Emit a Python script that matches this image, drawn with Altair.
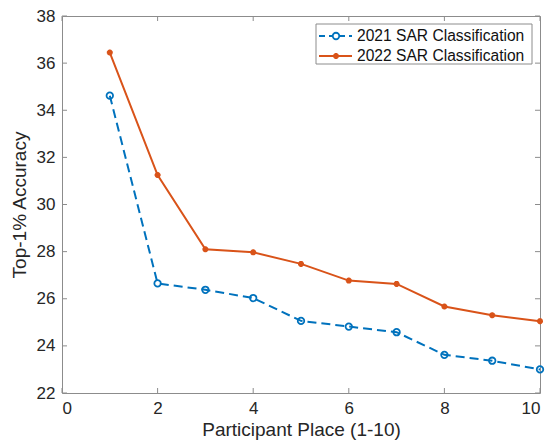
import altair as alt
import pandas as pd

places = [1, 2, 3, 4, 5, 6, 7, 8, 9, 10]
acc_2021 = [34.62, 26.65, 26.38, 26.03, 25.06, 24.82, 24.58, 23.62, 23.37, 23.0]
acc_2022 = [36.45, 31.25, 28.1, 27.97, 27.48, 26.77, 26.63, 25.67, 25.3, 25.05]
series_names = ["2021 SAR Classification", "2022 SAR Classification"]
colors = ["#0072BD", "#D95319"]
x_ticks = [0, 2, 4, 6, 8, 10]
y_ticks = [22, 24, 26, 28, 30, 32, 34, 36, 38]

W, H = 478, 377
FONT = "Liberation Sans"
GRID = "#8c8c8c"

df21 = pd.DataFrame({"place": places, "acc": acc_2021})
df22 = pd.DataFrame({"place": places, "acc": acc_2022})
xt = pd.DataFrame({"t": x_ticks})
yt = pd.DataFrame({"t": y_ticks})

xs = alt.Scale(domain=[0, 10], nice=False, zero=False)
ys = alt.Scale(domain=[22, 38], nice=False, zero=False)

X = alt.X("place:Q", scale=xs, title="Participant Place (1-10)",
          axis=alt.Axis(values=x_ticks, ticks=False, domain=False, grid=False,
                        labelPadding=7, labelFontSize=17, titleFontSize=19,
                        labelColor="#262626", titleColor="#262626", titleFontWeight="normal",
                        labelFont=FONT, titleFont=FONT, titlePadding=4))
Y = alt.Y("acc:Q", scale=ys, title="Top-1% Accuracy",
          axis=alt.Axis(values=y_ticks, ticks=False, domain=False, grid=False,
                        labelPadding=7, labelFontSize=17, titleFontSize=19,
                        labelColor="#262626", titleColor="#262626", titleFontWeight="normal",
                        labelFont=FONT, titleFont=FONT, titlePadding=7))

asterisk = "M-1,0L1,0M0,-1L0,1M-0.7,-0.7L0.7,0.7M-0.7,0.7L0.7,-0.7"

line21 = alt.Chart(df21).mark_line(color=colors[0], strokeWidth=2, strokeDash=[9, 5]).encode(x=X, y=Y)
pts21 = alt.Chart(df21).mark_point(color=colors[0], shape="circle", size=42, strokeWidth=1.8, filled=False, opacity=1).encode(x="place:Q", y="acc:Q")
line22 = alt.Chart(df22).mark_line(color=colors[1], strokeWidth=2).encode(x="place:Q", y="acc:Q")
pts22 = alt.Chart(df22).mark_point(color=colors[1], shape=asterisk, size=36, strokeWidth=2, filled=False, opacity=1).encode(x="place:Q", y="acc:Q")

tl = 5
xb = alt.Chart(xt).mark_rule(color=GRID, strokeWidth=1).encode(x=alt.X("t:Q", scale=xs), y=alt.value(H), y2=alt.value(H - tl))
xtp = alt.Chart(xt).mark_rule(color=GRID, strokeWidth=1).encode(x=alt.X("t:Q", scale=xs), y=alt.value(0), y2=alt.value(tl))
yl = alt.Chart(yt).mark_rule(color=GRID, strokeWidth=1).encode(y=alt.Y("t:Q", scale=ys), x=alt.value(0), x2=alt.value(tl))
yr = alt.Chart(yt).mark_rule(color=GRID, strokeWidth=1).encode(y=alt.Y("t:Q", scale=ys), x=alt.value(W), x2=alt.value(W - tl))

# legend
leg_df = pd.DataFrame({"name": series_names})
box = alt.Chart(leg_df.head(1)).mark_rect(fill="white", stroke=GRID, strokeWidth=1).encode(
    x=alt.value(254), x2=alt.value(470), y=alt.value(8), y2=alt.value(48))
leg_layers = [box]
rows_y = [20, 40]
for i, name in enumerate(series_names):
    d = pd.DataFrame({"name": [name]})
    dash = [6, 4] if i == 0 else [1, 0]
    leg_layers.append(alt.Chart(d).mark_rule(color=colors[i], strokeWidth=2, strokeDash=dash).encode(
        x=alt.value(257), x2=alt.value(290), y=alt.value(rows_y[i])))
    leg_layers.append(alt.Chart(d).mark_point(color=colors[i], shape="circle" if i == 0 else asterisk,
                                              size=42 if i == 0 else 36, strokeWidth=1.8 if i == 0 else 2,
                                              filled=False, opacity=1, fill="white" if i == 0 else colors[i]).encode(
        x=alt.value(274), y=alt.value(rows_y[i])))
    leg_layers.append(alt.Chart(d).mark_text(align="left", baseline="middle", font=FONT, fontSize=15.6,
                                             color="#111111").encode(
        x=alt.value(295), y=alt.value(rows_y[i]), text="name:N"))

chart = alt.layer(line21, pts21, line22, pts22, xb, xtp, yl, yr, *leg_layers).properties(
    width=W, height=H,
    autosize=alt.AutoSizeParams(type="none"),
    padding={"left": 54, "top": 8, "right": 6, "bottom": 51},
    background="white",
).configure_view(stroke=GRID, strokeWidth=1)

chart.save("out.html", embed_options={"renderer": "svg", "actions": False})
